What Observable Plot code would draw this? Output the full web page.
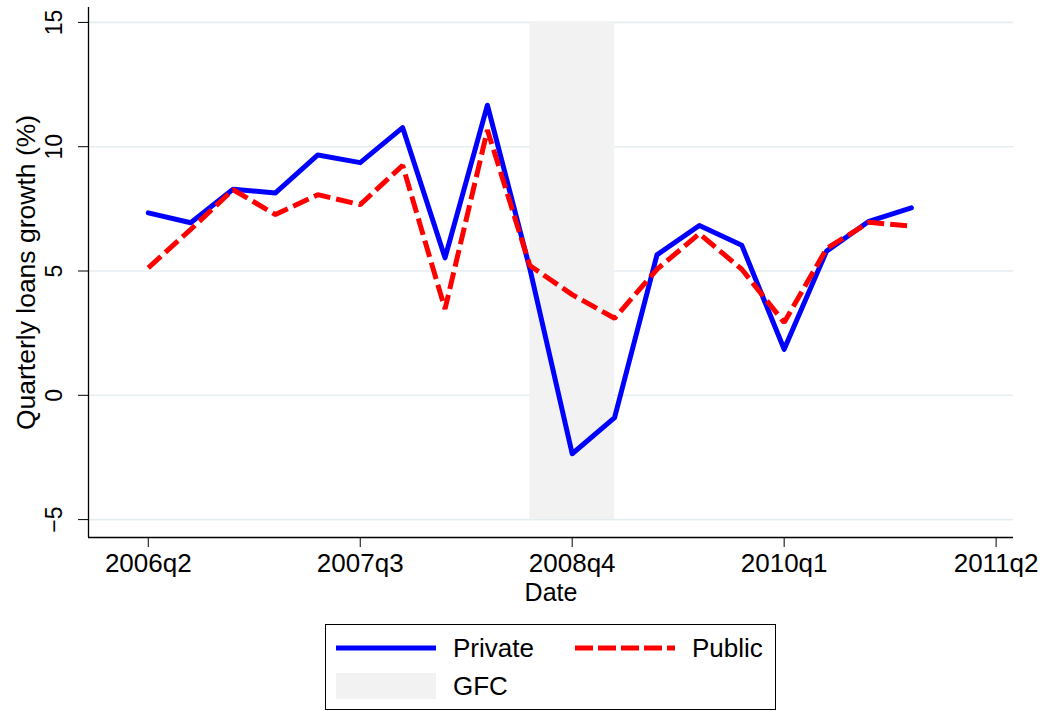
<!DOCTYPE html>
<html>
<head>
<meta charset="utf-8">
<script src="https://cdn.jsdelivr.net/npm/d3@7"></script>
<script src="https://cdn.jsdelivr.net/npm/@observablehq/plot@0.6"></script>
<style>
  body { margin: 0; background: white; font-family: "Liberation Sans", Arial, sans-serif; }
  #chart svg { display: block; }
  #legend { position: relative; margin-left: 325px; margin-top: 6px; width: 451px; height: 86px; border: 1px solid black; box-sizing: border-box; }
  #legend svg { position: absolute; left: 0; top: 0; }
</style>
</head>
<body>
<div id="chart"></div>
<div id="legend"></div>
<script>
// ---- data ----
const quarters = ["2006q2","2006q3","2006q4","2007q1","2007q2","2007q3","2007q4","2008q1","2008q2","2008q3",
                  "2008q4","2009q1","2009q2","2009q3","2009q4","2010q1","2010q2","2010q3","2010q4"];
const privateGrowth = [7.34, 6.94, 8.29, 8.14, 9.67, 9.36, 10.77, 5.53, 11.67, 5.1,
                       -2.35, -0.9, 5.65, 6.83, 6.04, 1.85, 5.8, 7.0, 7.54];
const publicGrowth  = [5.13, 6.67, 8.27, 7.27, 8.07, 7.67, 9.25, 3.47, 10.67, 5.22,
                       4.05, 3.1, 5.07, 6.5, 5.07, 2.93, 5.9, 6.96, 6.8];
const xTickLabels = ["2006q2","2007q3","2008q4","2010q1","2011q2"];
const yTicks = [-5, 0, 5, 10, 15];
const gfcPeriod = ["2008q3", "2009q1"];
const gfcRange = [-5, 15];
const seriesNames = ["Private", "Public", "GFC"];
const yTitle = "Quarterly loans growth (%)";
const xTitle = "Date";

// quarter string -> index (0 = 2006q2)
const qIndex = s => (+s.slice(0, 4) - 2006) * 4 + (+s.slice(5) - 2);
const rows = quarters.map((q, i) => ({t: qIndex(q), priv: privateGrowth[i], pub: publicGrowth[i]}));
const xTicks = xTickLabels.map(qIndex);
const xDomain = [-1.41, 20.41];
const yDomain = [-5.72, 15.6];
const fmtY = d => (d < 0 ? "\u2212" + Math.abs(d) : String(d));

const chart = Plot.plot({
  width: 1046,
  height: 618,
  marginLeft: 88,
  marginRight: 33,
  marginTop: 7,
  marginBottom: 81,
  x: {domain: xDomain},
  y: {domain: yDomain},
  style: {fontFamily: "'Liberation Sans', Arial, sans-serif", background: "white", color: "black"},
  marks: [
    Plot.ruleY(yTicks, {stroke: "#e4edf0", strokeWidth: 1.6}),
    Plot.rect([gfcPeriod], {x1: d => qIndex(d[0]), x2: d => qIndex(d[1]), y1: gfcRange[0], y2: gfcRange[1], fill: "#f2f2f2"}),
    Plot.ruleX([xDomain[0]], {stroke: "black", strokeWidth: 1.3}),
    Plot.ruleY([yDomain[0]], {stroke: "black", strokeWidth: 1.3}),
    Plot.axisX(xTicks, {tickSize: 10, tickPadding: 6, fontSize: 26, label: null,
      tickFormat: i => xTickLabels[xTicks.indexOf(i)]}),
    Plot.axisY(yTicks, {tickSize: 10, label: null, tickFormat: () => ""}),
    Plot.text(yTicks, {x: xDomain[0], y: d => d, text: fmtY, rotate: -90, dx: -33.5,
      fontSize: 23, textAnchor: "middle", lineAnchor: "middle"}),
    Plot.text([yTitle], {frameAnchor: "left", rotate: -90, dx: -62, fontSize: 26.5,
      textAnchor: "middle", lineAnchor: "middle"}),
    Plot.text([xTitle], {frameAnchor: "bottom", dy: 55.7, fontSize: 25, textAnchor: "middle", lineAnchor: "middle"}),
    Plot.line(rows, {x: "t", y: "priv", stroke: "#0000ff", strokeWidth: 5}),
    Plot.line(rows, {x: "t", y: "pub", stroke: "#ff0000", strokeWidth: 5, strokeDasharray: "17,6",
      strokeLinecap: "butt", strokeLinejoin: "miter"})
  ]
});
document.getElementById("chart").appendChild(chart);

// ---- legend ----
const lg = d3.select("#legend").append("svg").attr("width", 449).attr("height", 84)
  .style("font-family", "'Liberation Sans', Arial, sans-serif").style("font-size", "26px");
lg.append("line").attr("x1", 10).attr("x2", 110).attr("y1", 23).attr("y2", 23)
  .attr("stroke", "#0000ff").attr("stroke-width", 5);
lg.append("text").attr("x", 127).attr("y", 23).attr("dy", "0.35em").text(seriesNames[0]);
lg.append("line").attr("x1", 249).attr("x2", 349).attr("y1", 23).attr("y2", 23)
  .attr("stroke", "#ff0000").attr("stroke-width", 5).attr("stroke-dasharray", "18,5");
lg.append("text").attr("x", 366).attr("y", 23).attr("dy", "0.35em").text(seriesNames[1]);
lg.append("rect").attr("x", 10).attr("y", 48).attr("width", 100).attr("height", 26).attr("fill", "#f2f2f2");
lg.append("text").attr("x", 127).attr("y", 61).attr("dy", "0.35em").text(seriesNames[2]);
</script>
</body>
</html>
